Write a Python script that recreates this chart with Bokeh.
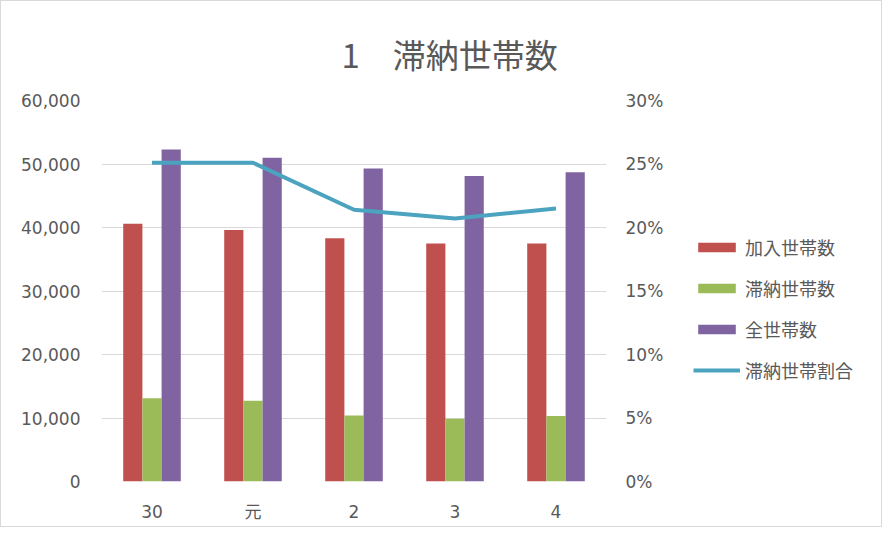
from bokeh.plotting import figure
from bokeh.layouts import row
from bokeh.models import (FactorRange, Range1d, LinearAxis, NumeralTickFormatter,
                          ColumnDataSource, Legend, LegendItem, Title)
from bokeh.transform import dodge
from bokeh.embed import file_html
from bokeh.resources import INLINE

categories = ["30", "元", "2", "3", "4"]
kanyu = [40600, 39600, 38300, 37500, 37500]      # 加入世帯数
tainou = [13100, 12700, 10400, 9900, 10300]      # 滞納世帯数
zen = [52300, 51000, 49300, 48100, 48700]        # 全世帯数
wariai = [0.251, 0.251, 0.214, 0.207, 0.215]     # 滞納世帯割合

left_ticks = [0, 10000, 20000, 30000, 40000, 50000, 60000]
right_ticks = [0, 0.05, 0.10, 0.15, 0.20, 0.25, 0.30]

series_names = ["加入世帯数", "滞納世帯数", "全世帯数", "滞納世帯割合"]
colors = ["#C0504D", "#9BBB59", "#8064A2", "#4BA3BF"]

FONT = "Noto Sans CJK JP"
NUMFONT = "DejaVu Sans, Noto Sans CJK JP"
GRAY = "#595959"

src = ColumnDataSource(dict(cat=categories, kanyu=kanyu, tainou=tainou, zen=zen, wariai=wariai))

p = figure(width=680, height=525, x_range=FactorRange(*categories, range_padding=0),
           y_range=Range1d(0, 60000), output_backend="svg", toolbar_location=None,
           min_border_left=100, min_border_right=75, min_border_top=99, min_border_bottom=45)
p.title = None
p.outline_line_color = None
p.background_fill_color = "white"
p.border_fill_color = "white"

p.extra_y_ranges = {"pct": Range1d(0, 0.30)}

w = 0.19
p.vbar(x=dodge("cat", -w, range=p.x_range), top="kanyu", width=w, source=src,
       fill_color=colors[0], line_color=None)
p.vbar(x=dodge("cat", 0, range=p.x_range), top="tainou", width=w, source=src,
       fill_color=colors[1], line_color=None)
p.vbar(x=dodge("cat", w, range=p.x_range), top="zen", width=w, source=src,
       fill_color=colors[2], line_color=None)
p.line(x="cat", y="wariai", source=src, y_range_name="pct",
       line_color=colors[3], line_width=4)

p.yaxis[0].ticker = left_ticks
p.yaxis[0].formatter = NumeralTickFormatter(format="0,0")
right = LinearAxis(y_range_name="pct", ticker=right_ticks,
                   formatter=NumeralTickFormatter(format="0%"))
p.add_layout(right, "right")

for ax in [p.yaxis[0], right, p.xaxis[0]]:
    ax.axis_line_color = None
    ax.major_tick_line_color = None
    ax.minor_tick_line_color = None
    ax.major_label_text_font = NUMFONT
    ax.major_label_text_font_size = "17px"
    ax.major_label_text_color = GRAY
p.yaxis[0].major_label_standoff = 15
right.major_label_standoff = 13
p.xaxis[0].major_label_standoff = 14

p.xgrid.grid_line_color = None
p.ygrid.ticker = left_ticks
p.ygrid.grid_line_color = "#d9d9d9"
p.ygrid.grid_line_width = 1

title = Title(text="1　滞納世帯数", align="left", offset=240, standoff=46,
              text_font=FONT, text_font_size="33px", text_font_style="normal",
              text_color=GRAY)
p.add_layout(title, "above")

# legend panel (hidden copies of the series supply the legend swatches)
lf = figure(width=200, height=525, x_range=p.x_range, y_range=p.y_range,
            output_backend="svg", toolbar_location=None, x_axis_type=None, y_axis_type=None,
            min_border_left=0, min_border_right=0, min_border_top=0, min_border_bottom=0)
lf.outline_line_color = None
lf.grid.grid_line_color = None
lf.title = None
lr = [lf.vbar(x="cat", top=col, width=w, source=src, fill_color=c, line_color=None,
              visible=False)
      for col, c in zip(["kanyu", "tainou", "zen"], colors[:3])]
lr.append(lf.line(x="cat", y="wariai", source=src, line_color=colors[3], line_width=4,
                  visible=False))

legend = Legend(items=[LegendItem(label=n, renderers=[r]) for n, r in zip(series_names, lr)],
                location=(12, 98), orientation="vertical", click_policy="none",
                glyph_width=47, glyph_height=12, label_height=20, spacing=15,
                label_standoff=5, padding=0, margin=0,
                border_line_color=None, background_fill_alpha=0,
                label_text_font=FONT, label_text_font_size="18px",
                label_text_color=GRAY)
lf.add_layout(legend)

layout = row(p, lf)
layout.styles = {"border": "1px solid #d9d9d9"}

open("out.html", "w").write(file_html(layout, INLINE))
